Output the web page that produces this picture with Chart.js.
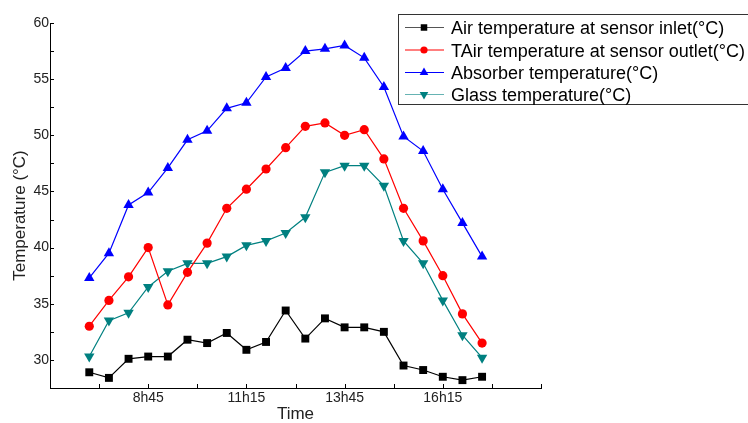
<!DOCTYPE html>
<html lang="en">
<head>
<meta charset="UTF-8">
<title>Temperatures</title>
<script src="https://cdn.jsdelivr.net/npm/chart.js"></script>
<style>
  html, body { margin: 0; padding: 0; background: #fff; }
  #wrap { width: 748px; height: 423px; }
</style>
</head>
<body>
<div id="wrap"><canvas id="tempChart"></canvas></div>
<script>
// half-hour readings, index 0 = 7h15
const times = ['7h15', '7h45', '8h15', '8h45', '9h15', '9h45', '10h15', '10h45', '11h15', '11h45',
               '12h15', '12h45', '13h15', '13h45', '14h15', '14h45', '15h15', '15h45', '16h15', '16h45', '17h15'];
const shownTimes = ['8h45', '11h15', '13h45', '16h15'];

const inletTemp    = [28.9, 28.4, 30.1, 30.3, 30.3, 31.8, 31.5, 32.4, 30.9, 31.6, 34.4, 31.9, 33.7, 32.9, 32.9, 32.5, 29.5, 29.1, 28.5, 28.2, 28.5];
const outletTemp   = [33.0, 35.3, 37.4, 40.0, 34.9, 37.8, 40.4, 43.5, 45.2, 47.0, 48.9, 50.8, 51.1, 50.0, 50.5, 47.9, 43.5, 40.6, 37.5, 34.1, 31.5];
const absorberTemp = [37.3, 39.5, 43.8, 44.9, 47.1, 49.6, 50.4, 52.4, 52.9, 55.2, 56.0, 57.5, 57.7, 58.0, 56.9, 54.3, 49.9, 48.6, 45.2, 42.2, 39.2];
const glassTemp    = [30.3, 33.5, 34.2, 36.5, 37.9, 38.6, 38.6, 39.2, 40.2, 40.6, 41.3, 42.7, 46.7, 47.3, 47.3, 45.5, 40.6, 38.6, 35.3, 32.2, 30.2];

const seriesNames = ['Air temperature at sensor inlet(°C)', 'TAir temperature at sensor outlet(°C)',
                     'Absorber temperature(°C)', 'Glass temperature(°C)'];

const FONT = 'Arial, "Liberation Sans", sans-serif';

function xy(values) {
    return values.map((v, i) => ({ x: i, y: v }));
}

function makeSeries(label, values, color, legendLine, style, radius, rotation) {
    return {
        label: label,
        data: xy(values),
        borderColor: color,
        backgroundColor: color,
        borderWidth: 1.2,
        pointStyle: style,
        pointRadius: radius,
        pointRotation: rotation,
        pointBorderWidth: 0,
        pointBackgroundColor: color,
        legendLine: legendLine,
        tension: 0
    };
}

function drawMarker(ctx, style, r, rot, x, y, color) {
    ctx.fillStyle = color;
    ctx.beginPath();
    if (style === 'rect') {
        const s = r * Math.SQRT1_2;
        ctx.rect(x - s, y - s, 2 * s, 2 * s);
    } else if (style === 'circle') {
        ctx.arc(x, y, r, 0, Math.PI * 2);
    } else {
        const a = rot * Math.PI / 180;
        for (let k = 0; k < 3; k++) {
            const t = a + k * 2 * Math.PI / 3;
            const px = x + Math.sin(t) * r, py = y - Math.cos(t) * r;
            k === 0 ? ctx.moveTo(px, py) : ctx.lineTo(px, py);
        }
        ctx.closePath();
    }
    ctx.fill();
}

// inward ticks, y title and boxed legend
const extras = {
    id: 'extras',
    afterDraw(chart) {
        const ctx = chart.ctx;
        const xs = chart.scales.x, ys = chart.scales.y;
        const area = chart.chartArea;
        ctx.save();
        ctx.strokeStyle = '#000';
        ctx.lineWidth = 1;
        ctx.beginPath();
        ys.ticks.forEach(t => {
            const py = Math.round(ys.getPixelForValue(t.value)) + 0.5;
            ctx.moveTo(area.left, py);
            ctx.lineTo(area.left + 4, py);
        });
        xs.ticks.forEach(t => {
            const px = Math.round(xs.getPixelForValue(t.value)) + 0.5;
            ctx.moveTo(px, area.bottom);
            ctx.lineTo(px, area.bottom - 4);
        });
        ctx.stroke();

        ctx.fillStyle = '#222';
        ctx.font = '17px ' + FONT;
        ctx.textAlign = 'center';
        ctx.textBaseline = 'middle';
        ctx.translate(20, (area.top + area.bottom) / 2 + 10);
        ctx.rotate(-Math.PI / 2);
        ctx.fillText('Temperature (°C)', 0, 0);
        ctx.restore();

        ctx.save();
        ctx.strokeStyle = '#333';
        ctx.lineWidth = 1;
        ctx.strokeRect(398.5, 14.5, 360, 90);
        const rowY = [27.5, 50, 72.5, 94.5];
        chart.data.datasets.forEach((ds, i) => {
            const y = rowY[i];
            ctx.strokeStyle = ds.legendLine;
            ctx.lineWidth = 1.2;
            ctx.beginPath();
            ctx.moveTo(405, y);
            ctx.lineTo(444, y);
            ctx.stroke();
            drawMarker(ctx, ds.pointStyle, ds.pointRadius - 1, ds.pointRotation, 424, y, ds.borderColor);
            ctx.fillStyle = '#000';
            ctx.font = '18px ' + FONT;
            ctx.textAlign = 'left';
            ctx.textBaseline = 'alphabetic';
            ctx.fillText(ds.label, 451, y + 6.5);
        });
        ctx.restore();
    }
};

new Chart(document.getElementById('tempChart'), {
    type: 'line',
    data: {
        datasets: [
            makeSeries(seriesNames[0], inletTemp, '#000000', '#555555', 'rect', 5.6, 0),
            makeSeries(seriesNames[1], outletTemp, '#ff0000', '#ff0000', 'circle', 4.6, 0),
            makeSeries(seriesNames[2], absorberTemp, '#0000ff', '#0000ff', 'triangle', 6, 0),
            makeSeries(seriesNames[3], glassTemp, '#008080', '#66b3b3', 'triangle', 6, 180)
        ]
    },
    options: {
        responsive: true,
        maintainAspectRatio: false,
        animation: false,
        layout: { padding: { left: 0, right: 207, top: 23, bottom: 0 } },
        plugins: {
            legend: { display: false },
            tooltip: { enabled: false }
        },
        scales: {
            x: {
                type: 'linear',
                min: -2,
                max: 23,
                afterBuildTicks(scale) {
                    const t = [];
                    for (let v = -2; v <= 23; v += 2.5) t.push({ value: v });
                    scale.ticks = t;
                },
                afterFit(scale) { scale.height = 35; },
                grid: { display: true, drawOnChartArea: false, drawTicks: false },
                border: { display: true, color: '#000', width: 1 },
                ticks: {
                    autoSkip: false,
                    maxRotation: 0,
                    padding: 2,
                    color: '#222',
                    font: { family: FONT, size: 14 },
                    callback(value) {
                        const name = Number.isInteger(value) ? times[value] : undefined;
                        return shownTimes.includes(name) ? name : '';
                    }
                },
                title: {
                    display: true,
                    text: 'Time',
                    color: '#222',
                    font: { family: FONT, size: 17, lineHeight: 1 },
                    padding: { top: 4, bottom: 0 }
                }
            },
            y: {
                min: 27.5,
                max: 60,
                afterBuildTicks(scale) {
                    const t = [];
                    for (let v = 27.5; v <= 60; v += 2.5) t.push({ value: v });
                    scale.ticks = t;
                },
                afterFit(scale) { scale.width = 50; },
                grid: { display: true, drawOnChartArea: false, drawTicks: false },
                border: { display: true, color: '#000', width: 1 },
                ticks: {
                    autoSkip: false,
                    padding: 1,
                    color: '#222',
                    font: { family: FONT, size: 14 },
                    callback(value) {
                        return value % 5 === 0 ? value : '';
                    }
                }
            }
        }
    },
    plugins: [extras]
});
</script>
</body>
</html>
